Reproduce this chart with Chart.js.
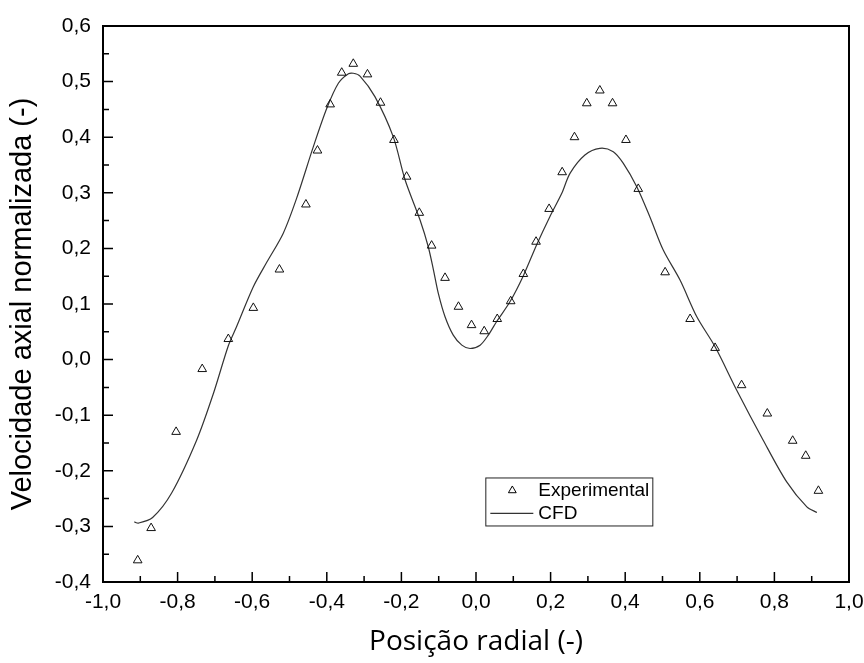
<!DOCTYPE html>
<html>
<head>
<meta charset="utf-8">
<script src="https://cdn.jsdelivr.net/npm/chart.js@4"></script>
<style>
  html, body { margin: 0; padding: 0; background: #fff; }
  #wrap { width: 864px; height: 663px; }
</style>
</head>
<body>
<div id="wrap"><canvas id="grafico" width="864" height="663"></canvas></div>
<script>
// pontos experimentais (triangulos)
const expX = [-0.907, -0.871, -0.804, -0.734, -0.664, -0.597, -0.527, -0.456, -0.425, -0.391,
  -0.360, -0.329, -0.291, -0.256, -0.220, -0.186, -0.152, -0.119, -0.083, -0.047,
  -0.012, 0.022, 0.057, 0.093, 0.127, 0.161, 0.196, 0.231, 0.264, 0.297,
  0.332, 0.366, 0.402, 0.435, 0.507, 0.574, 0.641, 0.712, 0.781, 0.849, 0.884, 0.918];
const expY = [-0.361, -0.303, -0.130, -0.017, 0.037, 0.093, 0.162, 0.279, 0.376, 0.459,
  0.516, 0.532, 0.513, 0.462, 0.395, 0.329, 0.264, 0.205, 0.147, 0.095,
  0.062, 0.051, 0.073, 0.105, 0.154, 0.212, 0.271, 0.337, 0.400, 0.461,
  0.484, 0.461, 0.395, 0.307, 0.157, 0.073, 0.021, -0.046, -0.097, -0.146, -0.173, -0.236];

// curva CFD
const cfdX = [-0.916, -0.905, -0.867, -0.816, -0.749, -0.704, -0.664, -0.642, -0.597, -0.561,
  -0.517, -0.481, -0.436, -0.400, -0.369, -0.342, -0.329, -0.311, -0.271, -0.222, -0.190,
  -0.150, -0.128, -0.114, -0.101, -0.083, -0.061, -0.038, -0.016, 0.011, 0.033,
  0.055, 0.091, 0.127, 0.163, 0.198, 0.230, 0.252, 0.292, 0.332, 0.368,
  0.395, 0.431, 0.466, 0.502, 0.547, 0.592, 0.641, 0.699, 0.770, 0.833, 0.887, 0.914];
const cfdY = [-0.292, -0.294, -0.284, -0.240, -0.145, -0.061, 0.025, 0.059, 0.131, 0.175,
  0.227, 0.290, 0.383, 0.452, 0.497, 0.514, 0.515, 0.510, 0.473, 0.401, 0.323,
  0.251, 0.203, 0.161, 0.119, 0.077, 0.044, 0.026, 0.020, 0.026, 0.044,
  0.068, 0.104, 0.151, 0.207, 0.257, 0.299, 0.335, 0.368, 0.380, 0.374,
  0.353, 0.311, 0.257, 0.197, 0.143, 0.077, 0.023, -0.055, -0.145, -0.220, -0.265, -0.275];

// marcas dos eixos
const xTicks = [-1.0, -0.8, -0.6, -0.4, -0.2, 0.0, 0.2, 0.4, 0.6, 0.8, 1.0];
const yTicks = [-0.4, -0.3, -0.2, -0.1, 0.0, 0.1, 0.2, 0.3, 0.4, 0.5, 0.6];
const xMinor = [-0.9, -0.7, -0.5, -0.3, -0.1, 0.1, 0.3, 0.5, 0.7, 0.9];
const yMinor = [-0.35, -0.25, -0.15, -0.05, 0.05, 0.15, 0.25, 0.35, 0.45, 0.55];

const fmt = v => (Math.round(v * 10) / 10).toFixed(1).replace('.', ',');
const arial = '"Liberation Sans", Arial, sans-serif';

// moldura, ticks para dentro e legenda (estilo Origin)
const molduraPlugin = {
  id: 'moldura',
  afterDatasetsDraw(chart) {
    const { ctx, chartArea: a, scales: { x, y } } = chart;
    ctx.save();
    ctx.strokeStyle = '#000';
    ctx.lineWidth = 2;
    ctx.strokeRect(a.left, a.top, a.right - a.left, a.bottom - a.top);

    ctx.lineWidth = 1.5;
    ctx.beginPath();
    xTicks.forEach(v => { const px = x.getPixelForValue(v); ctx.moveTo(px, a.bottom); ctx.lineTo(px, a.bottom - 10); });
    xMinor.forEach(v => { const px = x.getPixelForValue(v); ctx.moveTo(px, a.bottom); ctx.lineTo(px, a.bottom - 6); });
    yTicks.forEach(v => { const py = y.getPixelForValue(v); ctx.moveTo(a.left, py); ctx.lineTo(a.left + 10, py); });
    yMinor.forEach(v => { const py = y.getPixelForValue(v); ctx.moveTo(a.left, py); ctx.lineTo(a.left + 6, py); });
    ctx.stroke();

    // legenda
    const lx = x.getPixelForValue(0.025), ly = y.getPixelForValue(-0.212);
    const lw = 167, lh = 48;
    ctx.fillStyle = '#fff';
    ctx.fillRect(lx, ly, lw, lh);
    ctx.lineWidth = 1;
    ctx.strokeStyle = '#222';
    ctx.strokeRect(lx + 0.5, ly + 0.5, lw, lh);

    const ds0 = chart.data.datasets[0];
    const ds1 = chart.data.datasets[1];
    ctx.strokeStyle = '#000';
    Chart.helpers.drawPoint(ctx, {
      pointStyle: 'triangle', radius: 4.5, borderWidth: 1
    }, lx + 27, ly + 13);
    ctx.strokeStyle = ds1.borderColor;
    ctx.lineWidth = ds1.borderWidth;
    ctx.beginPath();
    ctx.moveTo(lx + 5, ly + 36);
    ctx.lineTo(lx + 48, ly + 36);
    ctx.stroke();

    ctx.fillStyle = '#000';
    ctx.font = '19px ' + arial;
    ctx.textBaseline = 'middle';
    ctx.textAlign = 'left';
    ctx.fillText(ds0.label, lx + 53, ly + 13);
    ctx.fillText(ds1.label, lx + 53, ly + 36);
    ctx.restore();
  }
};

const ctx = document.getElementById('grafico').getContext('2d');
const grafico = new Chart(ctx, {
  type: 'scatter',
  data: {
    datasets: [
      {
        label: 'Experimental',
        data: expX.map((v, i) => ({ x: v, y: expY[i] })),
        pointStyle: 'triangle',
        pointRadius: 5,
        pointBorderWidth: 1,
        pointBorderColor: '#111',
        pointBackgroundColor: 'rgba(255,255,255,0)',
        showLine: false,
        order: 0
      },
      {
        label: 'CFD',
        data: cfdX.map((v, i) => ({ x: v, y: cfdY[i] })),
        showLine: true,
        borderColor: '#333',
        borderWidth: 1.2,
        pointRadius: 0,
        tension: 0.3,
        order: 1
      }
    ]
  },
  options: {
    responsive: false,
    animation: false,
    events: [],
    layout: { padding: { top: 26, right: 15, left: 0, bottom: 0 } },
    plugins: { legend: { display: false }, tooltip: { enabled: false } },
    scales: {
      x: {
        type: 'linear',
        min: -1.0, max: 1.0,
        afterBuildTicks: s => { s.ticks = xTicks.map(v => ({ value: v })); },
        afterFit: s => { s.height = 81; },
        grid: { display: false },
        border: { display: false },
        ticks: {
          color: '#000',
          padding: 0,
          maxRotation: 0,
          font: { family: arial, size: 21 },
          callback: v => fmt(v)
        },
        title: {
          display: true,
          text: 'Posição radial (-)',
          color: '#000',
          font: { family: '"Open Sans", "Noto Sans", sans-serif', size: 28 },
          padding: { top: 4, bottom: 4 }
        }
      },
      y: {
        type: 'linear',
        min: -0.4, max: 0.6,
        afterBuildTicks: s => { s.ticks = yTicks.map(v => ({ value: v })); },
        afterFit: s => { s.width = 103; },
        grid: { display: false },
        border: { display: false },
        ticks: {
          color: '#000',
          padding: 4,
          font: { family: arial, size: 21 },
          callback: v => fmt(v)
        },
        title: {
          display: true,
          text: 'Velocidade axial normalizada (-)',
          color: '#000',
          font: { family: arial, size: 29 },
          padding: { top: 6, bottom: 4 }
        }
      }
    }
  },
  plugins: [molduraPlugin]
});
</script>
</body>
</html>
